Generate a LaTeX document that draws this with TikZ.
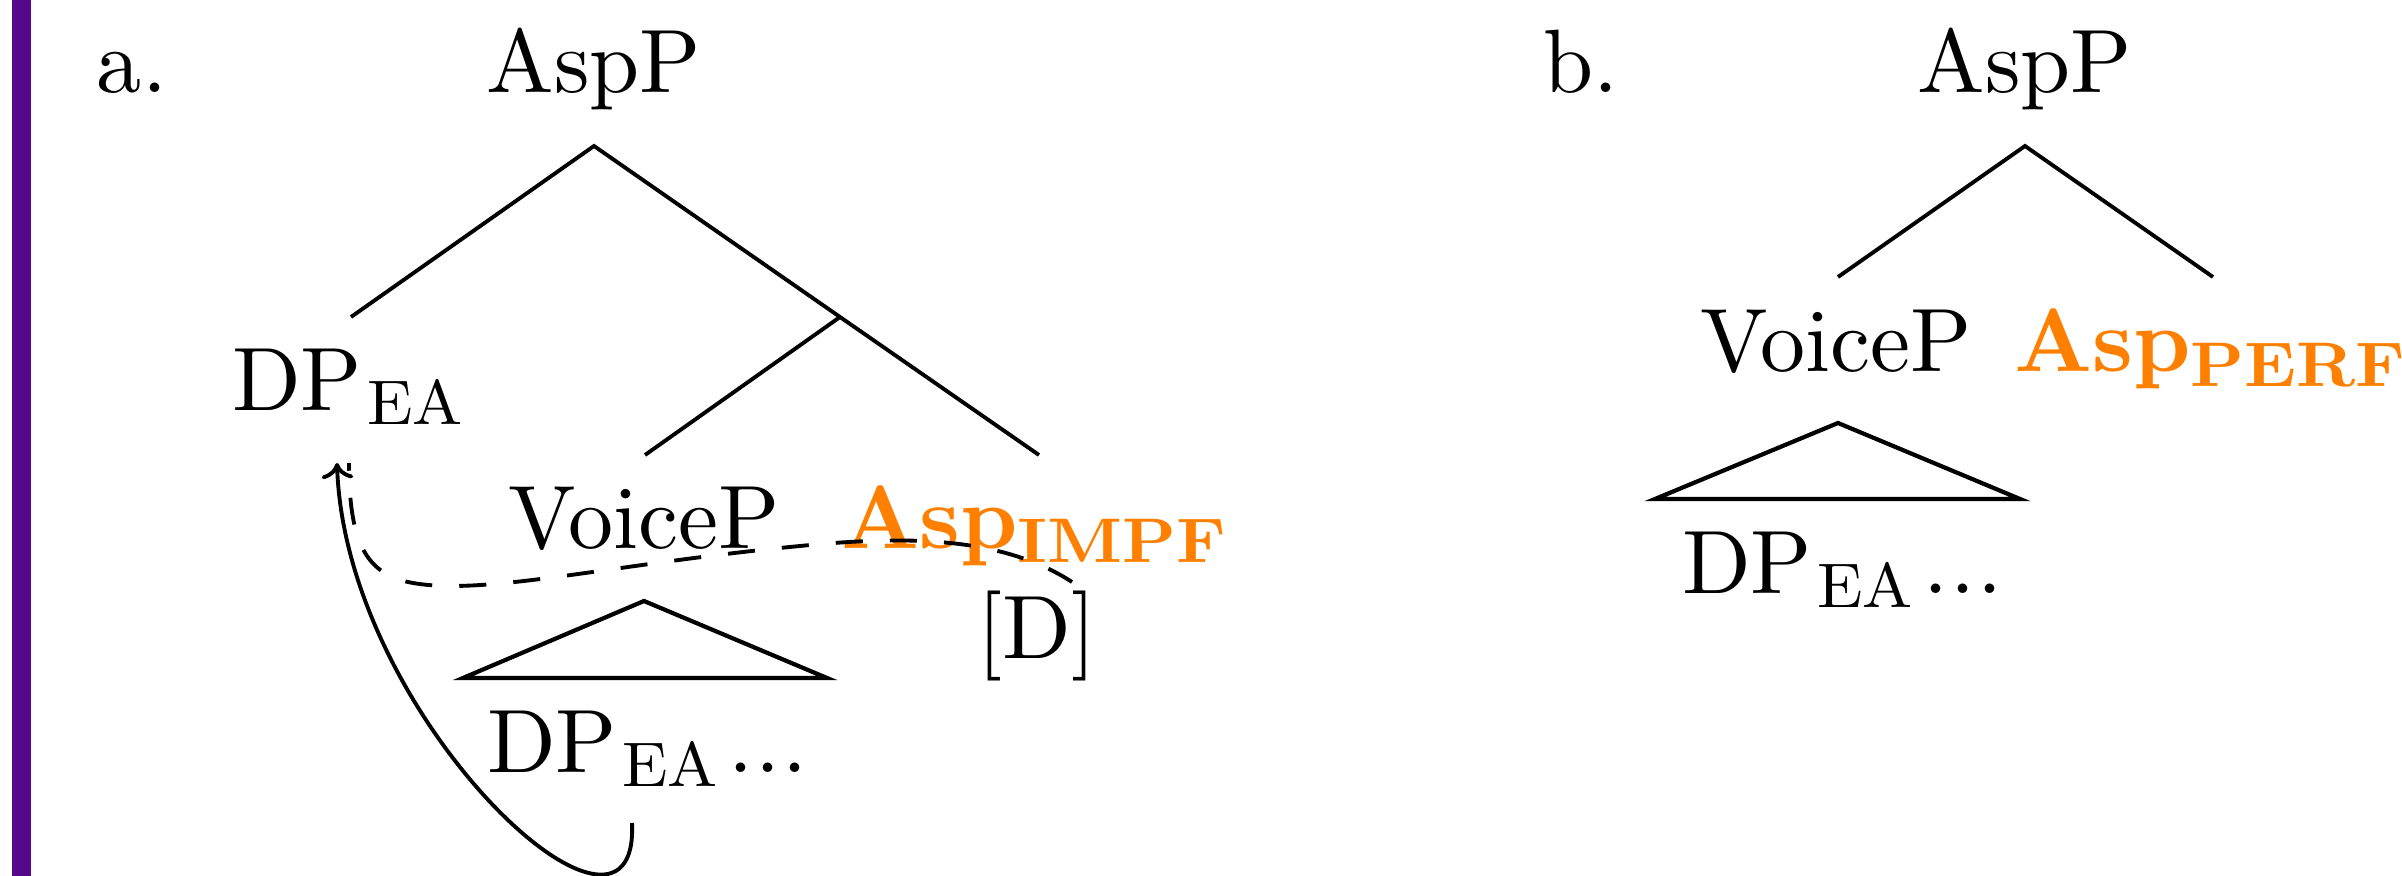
\documentclass[tikz,border=0pt]{standalone}
\usepackage{fontspec}
\setmainfont{lmroman10-regular.otf}[BoldFont=lmroman10-bold.otf]
\usetikzlibrary{arrows.meta}
\definecolor{barpurple}{RGB}{85,8,140}
\definecolor{asporange}{RGB}{255,128,0}
\newcommand{\lsubr}[1]{\kern1.5pt\raisebox{-4pt}{\scalebox{1.06}[1]{\fontsize{17.92}{20}\selectfont #1}}}
\newcommand{\lsubb}[1]{\raisebox{-4pt}{\scalebox{1.09}[1]{\fontsize{17.92}{20}\selectfont\bfseries #1}}}
\newcommand{\ldts}{\kern3pt.\kern0.5pt.\kern0.5pt.}
\begin{document}
\begin{tikzpicture}[x=0.01cm,y=-0.01cm,
  lbl/.style={anchor=base west, inner sep=0pt, outer sep=0pt, font=\fontsize{25.6}{30}\selectfont},
  hd/.style={lbl, text=asporange, font=\fontsize{25.6}{30}\selectfont\bfseries},
  branch/.style={line width=1.1pt},
  tri/.style={line width=1.2pt},
  mv/.style={line width=1.1pt, dash pattern=on 7.7pt off 7.7pt},
  arr/.style={line width=1.1pt, -{To[length=4.5pt,width=9pt]}}]
\path[use as bounding box] (0,0) rectangle (2402,876);
\fill[barpurple] (12,0) rectangle (31,876);

% ---- tree a ----
\node[lbl] (la) at (97,93) {a.};
\node[lbl, anchor=base] (rootA) at (594,93) {AspP};
\coordinate (apA) at (594,146);
\coordinate (dpA) at (351,317);
\coordinate (midA) at (840,317);
\coordinate (vpA) at (645,455);
\coordinate (aspA) at (1039,455);
\node[lbl] (dpeaA) at (232,410) {DP\lsubr{EA}};
\node[lbl] (voiceA) at (508,548) {VoiceP};
\node[hd] (impf) at (841,548) {Asp\lsubb{IMPF}};
\node[lbl, anchor=base] (dfeat) at (1037,658) {[D]};
\coordinate (triAt) at (644,601);
\coordinate (triAl) at (463,678);
\coordinate (triAr) at (827,678);
\node[lbl] (lowA) at (487,772) {DP\lsubr{EA}\ldts};

\draw[branch] (dpA) -- (apA) -- (midA) -- (aspA);
\draw[branch] (midA) -- (vpA);
\draw[tri] (triAt) -- (triAl) -- (triAr) -- cycle;

\coordinate (dashS) at (1072,582);
\coordinate (dashE) at (349,463);
\draw[mv] (dashS) .. controls (1000,535) and (900,536) .. (800,546)
  .. controls (600,565) and (470,600) .. (400,580)
  .. controls (365,568) and (349,540) .. (dashE);

\coordinate (movS) at (632,823);
\coordinate (movE) at (337,463);
\draw[arr] (movS) .. controls (640,990) and (345,720) .. (movE);

% ---- tree b ----
\node[lbl] (lb) at (1543,93) {b.};
\node[lbl, anchor=base] (rootB) at (2025,93) {AspP};
\coordinate (apB) at (2025,146);
\coordinate (vpB) at (1838,277);
\coordinate (aspB) at (2213,277);
\node[lbl] (voiceB) at (1700,372) {VoiceP};
\node[hd] (perf) at (2014,372) {Asp\lsubb{PERF}};
\coordinate (triBt) at (1838,423);
\coordinate (triBl) at (1655,499);
\coordinate (triBr) at (2020,499);
\node[lbl] (lowB) at (1682,593) {DP\lsubr{EA}\ldts};

\draw[branch] (vpB) -- (apB) -- (aspB);
\draw[tri] (triBt) -- (triBl) -- (triBr) -- cycle;
\end{tikzpicture}
\end{document}
